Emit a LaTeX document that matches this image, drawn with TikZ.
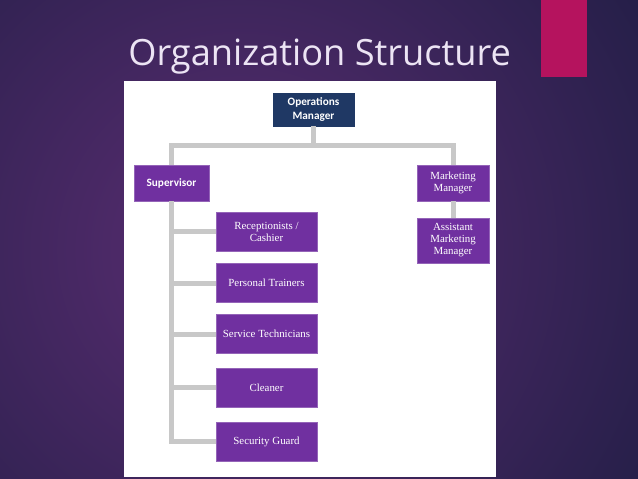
\documentclass[tikz,border=0pt]{standalone}
\usepackage{fontspec}
\setmainfont{Liberation Serif}
\newfontfamily\titlefont{Open Sans}
\newfontfamily\headfont{Carlito}
\usepackage{xcolor}
\usepackage{tikz}
\usetikzlibrary{positioning}

\definecolor{slidenavy}{RGB}{34,30,70}
\definecolor{slidepurple}{RGB}{90,45,114}
\definecolor{accentmag}{RGB}{181,19,94}
\definecolor{titletext}{RGB}{236,228,244}
\definecolor{boxnavy}{RGB}{31,56,100}
\definecolor{boxpurple}{RGB}{112,48,160}
\definecolor{linkgray}{RGB}{200,200,200}

\begin{document}
\begin{tikzpicture}[x=0.02cm, y=-0.02cm,
  box/.style={draw=boxpurple!75!white, fill=boxpurple, text=white, align=center, inner sep=1pt, line width=0.4pt, font=\fontsize{6.2}{6.8}\selectfont},
  head/.style={box, font=\headfont\bfseries\fontsize{6.4}{7.6}\selectfont},
  staff/.style={box, minimum width=2.02cm, minimum height=0.78cm},
  link/.style={draw=linkgray, line width=0.1cm}
]
\begin{scope}
  \clip (0,0) rectangle (638,479);
  \fill[slidenavy] (0,0) rectangle (638,479);
  \shade[inner color=slidepurple, outer color=slidenavy] (240,250) circle (500);
\end{scope}
\fill[accentmag] (541,0) rectangle (587,77);
\node[anchor=base west, inner sep=0, text=titletext, font=\titlefont\fontsize{20.6}{24}\selectfont] (title) at (128,66) {Organization Structure};
\fill[white] (124,81) rectangle (496,477);

\node[head, fill=boxnavy, draw=boxnavy, minimum width=1.62cm, minimum height=0.66cm] (ops) at (313.5,109.5) {Operations\\Manager};
\node[head, minimum width=1.5cm, minimum height=0.72cm] (sup) at (171.5,183) {Supervisor};
\node[box, minimum width=1.44cm, minimum height=0.72cm] (mm) at (453,183) {Marketing\\Manager};
\node[box, minimum width=1.44cm, minimum height=0.9cm] (amm) at (453,240.5) {Assistant\\Marketing\\Manager};
\node[staff] (rec) at (266.5,231.5) {Receptionists /\\Cashier};
\node[staff] (pt) at (266.5,283) {Personal Trainers};
\node[staff] (st) at (266.5,334) {Service Technicians};
\node[staff] (cl) at (266.5,387.5) {Cleaner};
\node[staff] (sg) at (266.5,441.5) {Security Guard};

\coordinate (bar) at (313.5,146);
\draw[link] (ops.south) -- (bar);
\draw[link] (sup.north) |- (bar) -| (mm.north);
\draw[link] (mm.south) -- (amm.north);
\foreach \n in {rec,pt,st,cl,sg}
  \draw[link] (sup.south) |- (\n.west);
\end{tikzpicture}
\end{document}
